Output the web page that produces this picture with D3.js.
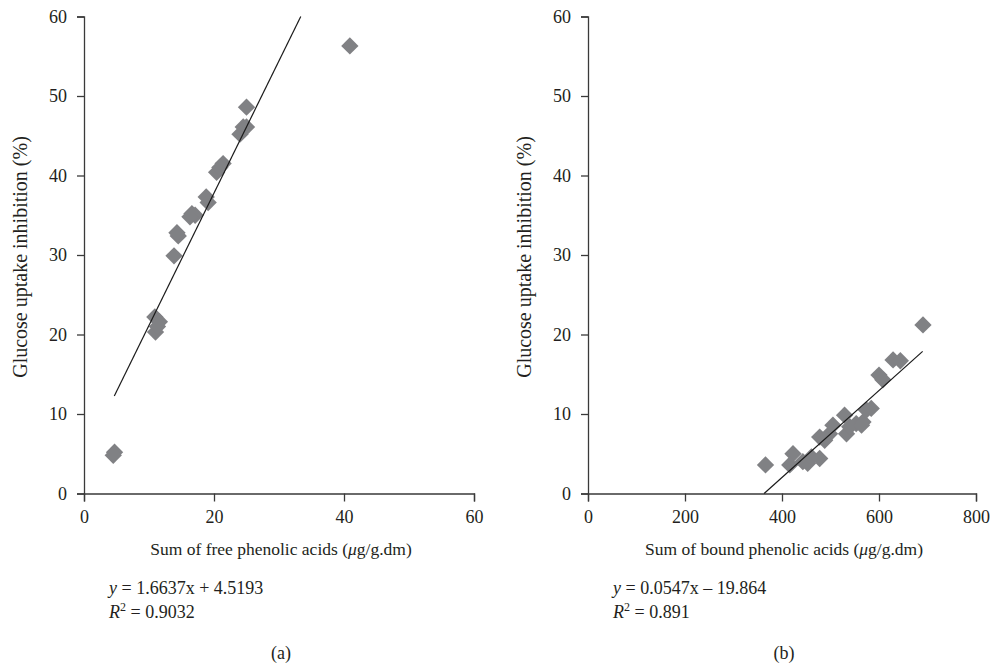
<!DOCTYPE html>
<html>
<head>
<meta charset="utf-8">
<script src="https://d3js.org/d3.v7.min.js"></script>
<style>
  body { margin: 0; background: #fff; }
  text { font-family: 'Liberation Serif', 'DejaVu Serif', serif; fill: #231f20; }
</style>
</head>
<body>
<div class="vis"></div>
<script>
  let width = 993
  let height = 663

  // panel (a): free phenolic acids vs inhibition
  let freeX = [4.7, 4.5, 10.9, 11.6, 11.0, 11.3, 13.85, 14.5, 14.3, 16.6, 17.1, 16.3, 18.8, 19.1, 20.4, 21.4, 20.9, 24.0, 24.5, 25.0, 25.0, 40.9]
  let freeY = [5.2, 4.8, 22.2, 21.6, 20.3, 21.0, 29.9, 32.4, 32.8, 35.2, 35.0, 34.8, 37.3, 36.6, 40.4, 41.5, 41.0, 45.2, 46.1, 46.1, 48.6, 56.3]
  let fitA = { slope: 1.6637, intercept: 4.5193, from: 4.66, to: 33.35 }

  // panel (b): bound phenolic acids vs inhibition
  let boundX = [366, 422.7, 416, 443, 453, 460.6, 477.7, 477.7, 488, 498, 505, 529, 533, 539.6, 553, 567, 564, 574, 584, 600, 608, 629, 644, 690.7]
  let boundY = [3.6, 5.0, 3.6, 4.0, 3.8, 4.6, 4.4, 7.1, 6.7, 7.5, 8.6, 9.85, 7.5, 8.4, 8.8, 9.0, 8.6, 10.5, 10.7, 14.9, 14.3, 16.8, 16.7, 21.2]
  let fitB = { slope: 0.0547, intercept: -19.864, from: 363.1, to: 690 }

  let yTicks = [0, 10, 20, 30, 40, 50, 60]
  let xTicksA = [0, 20, 40, 60]
  let xTicksB = [0, 200, 400, 600, 800]

  let svg = d3.select('.vis').append('svg')
    .attr('width', width).attr('height', height)
    .attr('viewBox', [0, 0, width, height])

  let diamond = d3.symbol().type(d3.symbolSquare).size(150)

  function panel(opt) {
    let g = svg.append('g')
    let x = d3.scaleLinear().domain(opt.xDomain).range([opt.left, opt.right])
    let y = d3.scaleLinear().domain([0, 60]).range([493.5, 16.5])

    g.append('g')
      .attr('transform', `translate(0,${y(0)})`)
      .call(d3.axisBottom(x).tickValues(opt.xTicks).tickSize(8).tickPadding(9))
      .call(a => a.selectAll('text').style('font-size', '18px').style('font-family', 'Liberation Serif'))
      .call(a => a.selectAll('path,line').attr('stroke', '#3a3a3a').attr('stroke-width', 1.3))

    g.append('g')
      .attr('transform', `translate(${x(0)},0)`)
      .call(d3.axisLeft(y).tickValues(yTicks).tickSize(7).tickPadding(10))
      .call(a => a.selectAll('text').style('font-size', '18px').style('font-family', 'Liberation Serif'))
      .call(a => a.selectAll('path,line').attr('stroke', '#3a3a3a').attr('stroke-width', 1.3))

    g.append('g')
      .selectAll('path')
      .data(opt.xs.map((d, i) => [d, opt.ys[i]]))
      .join('path')
      .attr('d', diamond)
      .attr('transform', d => `translate(${x(d[0])},${y(d[1])}) rotate(45)`)
      .attr('fill', '#808184')

    let f = opt.fit
    g.append('line')
      .attr('x1', x(f.from)).attr('y1', y(f.slope * f.from + f.intercept))
      .attr('x2', x(f.to)).attr('y2', y(f.slope * f.to + f.intercept))
      .attr('stroke', '#1a1a1a').attr('stroke-width', 1.2)

    let cx = (opt.left + opt.right) / 2
    g.append('text')
      .attr('transform', `translate(${opt.left - 62},${(y(0) + y(60)) / 2 + 2}) rotate(-90)`)
      .attr('text-anchor', 'middle')
      .attr('dominant-baseline', 'middle')
      .style('font-size', '20px')
      .text('Glucose uptake inhibition (%)')

    let xl = g.append('text')
      .attr('x', cx + 2).attr('y', 555)
      .attr('text-anchor', 'middle')
      .style('font-size', '17.5px')
    xl.append('tspan').text(opt.xLabel + ' (')
    xl.append('tspan').style('font-style', 'italic').text('μ')
    xl.append('tspan').text('g/g.dm)')

    let e1 = g.append('text').attr('x', opt.left + 25).attr('y', 594).style('font-size', '18px')
    e1.append('tspan').style('font-style', 'italic').text('y')
    e1.append('tspan').text(' = ' + opt.eq)

    let e2 = g.append('text').attr('x', opt.left + 25).attr('y', 618).style('font-size', '18px')
    e2.append('tspan').style('font-style', 'italic').text('R')
    e2.append('tspan').attr('dy', -7).style('font-size', '12px').text('2')
    e2.append('tspan').attr('dy', 7).text(' = ' + opt.r2)

    g.append('text')
      .attr('x', cx + 2).attr('y', 659)
      .attr('text-anchor', 'middle')
      .style('font-size', '18px')
      .text(opt.tag)
  }

  panel({
    left: 84, right: 474, xDomain: [0, 60], xTicks: xTicksA,
    xs: freeX, ys: freeY, fit: fitA,
    xLabel: 'Sum of free phenolic acids',
    eq: '1.6637x + 4.5193', r2: '0.9032', tag: '(a)'
  })

  panel({
    left: 588, right: 976, xDomain: [0, 800], xTicks: xTicksB,
    xs: boundX, ys: boundY, fit: fitB,
    xLabel: 'Sum of bound phenolic acids',
    eq: '0.0547x \u2013 19.864', r2: '0.891', tag: '(b)'
  })
</script>
</body>
</html>
